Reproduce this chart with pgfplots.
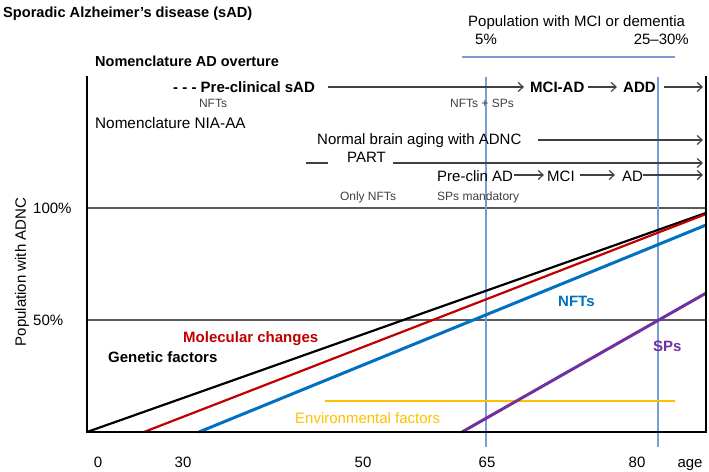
\documentclass[border=0pt]{standalone}
\usepackage{fontspec}
\setmainfont{Liberation Sans}
\usepackage{pgfplots}
\pgfplotsset{compat=1.18}
\usetikzlibrary{arrows.meta}
\definecolor{cred}{RGB}{192,0,0}
\definecolor{cblue}{RGB}{0,112,192}
\definecolor{cpurple}{RGB}{112,48,160}
\definecolor{corange}{RGB}{255,192,0}
\definecolor{refblue}{RGB}{120,160,215}
\definecolor{gridgray}{RGB}{89,89,89}
\definecolor{arrgray}{RGB}{64,64,64}
\newcommand{\fs}{\fontsize{15bp}{18bp}\selectfont}
\newcommand{\fsm}{\fontsize{12bp}{14bp}\selectfont}
\begin{document}
\begin{tikzpicture}[font=\fs]
\begin{axis}[
  scale only axis, width=619bp, height=356bp,
  xmin=0, xmax=619, ymin=0, ymax=158.93,
  axis x line*=bottom, axis y line*=left,
  axis line style={draw=none},
  clip=false,
  xtick={11,96,276,400,550,603},
  xticklabels={0,30,50,65,80,age},
  xticklabel style={font=\fs, anchor=base, yshift=-35.5bp, inner sep=0pt},
  ytick={50,100}, yticklabels={},
  major tick length=0pt,
  ymajorgrids, grid style={gridgray, line width=1.5bp},
]
% reference lines at 65 and 80
\draw[refblue, line width=1.3bp] (axis cs:399,-6.7) -- (axis cs:399,158.5);
\draw[refblue, line width=1.3bp] (axis cs:571,-6.7) -- (axis cs:571,158.5);
% data
\addplot[corange, line width=2.2bp] coordinates {(238,14.0) (588,14.0)};
\addplot[black, line width=2.2bp] coordinates {(0,0) (619,97.8)};
\addplot[cred, line width=2.2bp] coordinates {(57,0) (619,97.3)};
\addplot[cblue, line width=3bp] coordinates {(112,0) (619,92.4)};
\addplot[cpurple, line width=3bp] coordinates {(375,0) (619,62.0)};
% axis frame (left, bottom, right)
\draw[black, line width=2bp] (rel axis cs:0,1) -- (rel axis cs:0,0) -- (rel axis cs:1,0) -- (rel axis cs:1,1);
\end{axis}
\begin{scope}[x=1bp, y=-1bp, shift={(-87bp,432bp)}]
\tikzset{every node/.style={inner sep=0pt}}
% title
\node[anchor=base west, font=\fontsize{14.6bp}{18bp}\selectfont\bfseries] at (3,17.5) {Sporadic Alzheimer’s disease (sAD)};
\node[anchor=base west] at (468,26.5) {Population with MCI or dementia};
\node[anchor=base west] at (475,45) {5\%};
\node[anchor=base east] at (689,45) {25–30\%};
\draw[refblue, line width=1.3bp] (462,57) -- (675,57);
% AD overture
\node[anchor=base west, font=\fontsize{14.5bp}{18bp}\selectfont\bfseries] at (95,66.5) {Nomenclature AD overture};
\node[anchor=base west, font=\fs\bfseries] at (173,92.5) {- - - Pre-clinical sAD};
\node[anchor=base west, font=\fs\bfseries] at (530,92.5) {MCI-AD};
\node[anchor=base west, font=\fs\bfseries] at (623,92.5) {ADD};
\begin{scope}[arrgray, line width=1.2bp, -{Straight Barb[length=5bp,width=9bp]}]
\draw (328,87) -- (524,87);
\draw (588,87) -- (617,87);
\draw (664,87) -- (703,87);
\end{scope}
\node[anchor=base, font=\fsm, text=arrgray] at (213,107.5) {NFTs};
\node[anchor=base, font=\fsm, text=arrgray] at (482,107.5) {NFTs + SPs};
% NIA-AA
\node[anchor=base west, font=\fontsize{15.3bp}{18bp}\selectfont] at (95,128.5) {Nomenclature NIA-AA};
\node[anchor=base west] at (317,145) {Normal brain aging with ADNC};
\node[anchor=base west] at (347,163) {PART};
\node[anchor=base west] at (437,181.5) {Pre-clin AD};
\node[anchor=base west] at (547,181.5) {MCI};
\node[anchor=base west] at (622,181.5) {AD};
\draw[arrgray, line width=1.2bp] (306,163) -- (328,163);
\begin{scope}[arrgray, line width=1.2bp, -{Straight Barb[length=5bp,width=9bp]}]
\draw (538,140) -- (703,140);
\draw (393,163) -- (703,163);
\draw (514,175) -- (544,175);
\draw (580,175) -- (615,175);
\draw (643,175) -- (703,175);
\end{scope}
\node[anchor=base, font=\fsm, text=arrgray] at (368,200.5) {Only NFTs};
\node[anchor=base west, font=\fsm, text=arrgray] at (437,200.5) {SPs mandatory};
% y axis
\node[anchor=base west] at (33,213.5) {100\%};
\node[anchor=base west] at (33,325.5) {50\%};
\node[rotate=90] at (22,272) {Population with ADNC};
% series labels
\node[anchor=base west, font=\fs\bfseries, text=cred] at (183,342.5) {Molecular changes};
\node[anchor=base west, font=\fs\bfseries] at (108,363) {Genetic factors};
\node[anchor=base west, font=\fs\bfseries, text=cblue] at (558,306.5) {NFTs};
\node[anchor=base west, font=\fs\bfseries, text=cpurple] at (653,351.5) {SPs};
\node[anchor=base west, text=corange] at (295,424) {Environmental factors};
\pgfresetboundingbox
\path[use as bounding box] (0,0) rectangle (709,472);
\end{scope}
\end{tikzpicture}
\end{document}
